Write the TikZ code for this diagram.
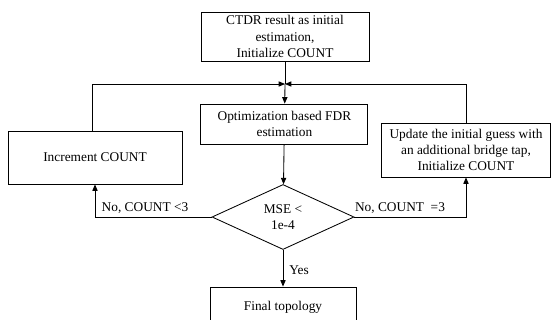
\documentclass[tikz,border=0pt]{standalone}
\usepackage{fontspec}
\setmainfont{Liberation Serif}
\usetikzlibrary{shapes.geometric,arrows.meta}
\tikzset{
  box/.style={draw,rectangle,align=center,font=\fontsize{9.5}{11.6}\selectfont,inner sep=1pt},
  dec/.style={draw,diamond,aspect=2.2,align=center,font=\fontsize{9.5}{11.6}\selectfont,inner sep=0pt},
  lbl/.style={font=\fontsize{9.5}{11.6}\selectfont,inner sep=0pt},
  arr/.style={-{Triangle[length=1.6mm,width=1.3mm]}},
}
\begin{document}
\begin{tikzpicture}[line width=0.6pt]
	\useasboundingbox (0,0) rectangle (13.775,-8.0);
	\clip (0,0) rectangle (13.775,-8.0);
	% boxes
	\node[box,minimum width=4.2cm,minimum height=1.225cm] (init) at (7.125,-0.9125) {CTDR result as initial\\estimation,\\Initialize COUNT};
	\coordinate (join) at (7.125,-2.1);
	\node[box,minimum width=4.175cm,minimum height=1.0cm] (opt) at (7.11,-3.1) {Optimization based FDR\\estimation};
	\node[box,minimum width=4.35cm,minimum height=1.325cm] (inc) at (2.375,-3.9375) {Increment COUNT};
	\node[box,minimum width=4.23cm,minimum height=1.35cm] (upd) at (11.65,-3.75) {Update the initial guess with\\an additional bridge tap,\\Initialize COUNT};
	\node[dec,minimum width=3.55cm,minimum height=1.625cm] (mse) at (7.075,-5.425) {MSE <\\1e-4};
	\node[box,minimum width=3.65cm,minimum height=1.0cm] (fin) at (7.075,-7.675) {Final topology};
	% connectors
	\draw (init) -- (join);
	\draw[arr] (join) -- (opt);
	\draw[arr] ([xshift=-0.075cm]inc.north) |- (join);
	\draw[arr] (upd.north) |- (join);
	\draw[arr] (opt) -- (mse);
	\draw[arr] (mse.west) -| (inc.south);
	\draw[arr] (mse.east) -| (upd.south);
	\draw[arr] (mse) -- (fin);
	% labels
	\node[lbl] (lt) at (3.625,-5.2) {No, COUNT <3};
	\node[lbl] (lrt) at (10.0,-5.2) {No, COUNT \ =3};
	\node[lbl] (lyes) at (7.475,-6.75) {Yes};
\end{tikzpicture}
\end{document}
